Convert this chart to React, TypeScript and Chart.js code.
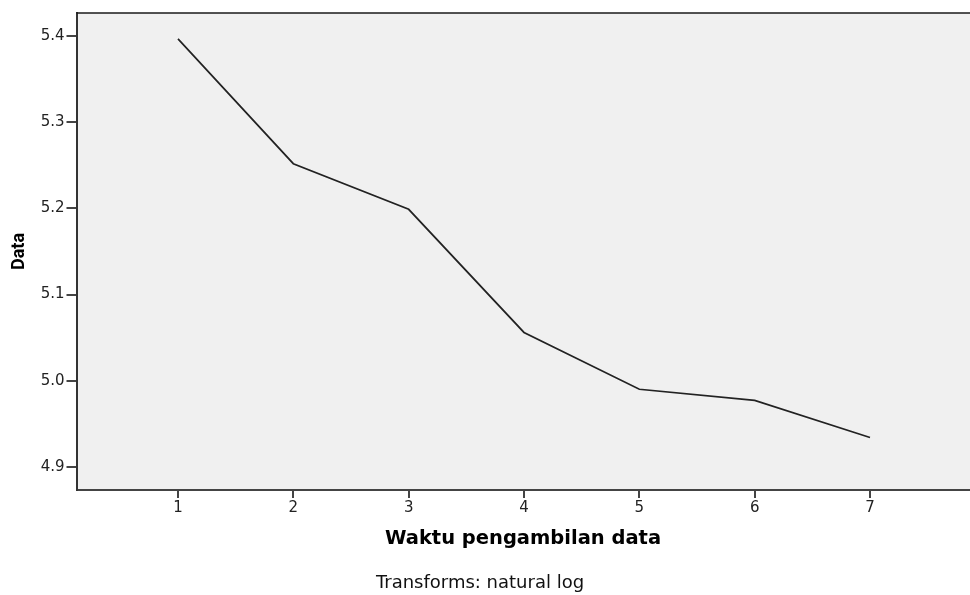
import React, { useEffect, useRef } from "react";
import { Chart, registerables } from "chart.js";

Chart.register(...registerables);

const xValues = [1, 2, 3, 4, 5, 6, 7];
const yValues = [5.397, 5.252, 5.199, 5.056, 4.99, 4.977, 4.934];
const xTicks = [1, 2, 3, 4, 5, 6, 7];
const yTicks = [4.9, 5.0, 5.1, 5.2, 5.3, 5.4];
const yTitle = "Data";
const xTitle = "Waktu pengambilan data";
const footnote = "Transforms: natural log";

const CANVAS_W = 976;
const CANVAS_H = 595;

const decorPlugin = {
  id: "decor",
  beforeDraw(chart: any) {
    const { ctx, chartArea } = chart;
    ctx.save();
    ctx.fillStyle = "#f0f0f0";
    ctx.fillRect(chartArea.left, chartArea.top, chartArea.right - chartArea.left, chartArea.bottom - chartArea.top);
    ctx.restore();
  },
  afterDraw(chart: any) {
    const { ctx, chartArea } = chart;
    ctx.save();
    ctx.strokeStyle = "#1a1a1a";
    ctx.lineWidth = 1.6;
    ctx.beginPath();
    ctx.moveTo(chartArea.left, chartArea.top);
    ctx.lineTo(CANVAS_W, chartArea.top);
    ctx.stroke();

    ctx.fillStyle = "#000";
    ctx.save();
    ctx.translate(19.5, 251.5);
    ctx.rotate(-Math.PI / 2);
    ctx.font = 'bold 18px Roboto, "Liberation Sans", Arial, sans-serif';
    ctx.textAlign = "center";
    ctx.textBaseline = "middle";
    ctx.fillText(yTitle, 0, 0);
    ctx.restore();

    ctx.font = 'bold 19.5px "DejaVu Sans", sans-serif';
    ctx.textAlign = "center";
    ctx.textBaseline = "middle";
    ctx.fillText(xTitle, 523, 539);

    ctx.font = '18px "DejaVu Sans", sans-serif';
    ctx.fillStyle = "#111";
    ctx.fillText(footnote, 480, 583);
    ctx.restore();
  },
};

export default function App() {
  const ref = useRef<HTMLCanvasElement | null>(null);

  useEffect(() => {
    document.body.style.margin = "0";
    document.body.style.overflow = "hidden";
    if (!ref.current) return;
    const chart = new Chart(ref.current, {
      type: "line",
      data: {
        datasets: [
          {
            data: xValues.map((x, i) => ({ x, y: yValues[i] })),
            borderColor: "#222",
            borderWidth: 1.7,
            pointRadius: 0,
            tension: 0,
            fill: false,
          },
        ],
      },
      options: {
        animation: false,
        responsive: false,
        layout: { padding: { left: 0, top: 13, right: 4.5, bottom: 65 } },
        plugins: {
          legend: { display: false },
          tooltip: { enabled: false },
        },
        scales: {
          x: {
            type: "linear",
            min: 0.12,
            max: 7.88,
            afterFit: (s: any) => {
              s.height = 40;
            },
            afterBuildTicks: (s: any) => {
              s.ticks = xTicks.map((v) => ({ value: v }));
            },
            ticks: {
              color: "#222",
              font: { family: "DejaVu Sans", size: 15 },
              padding: 1,
              maxRotation: 0,
              callback: (v: any) => String(v),
            },
            grid: {
              display: true,
              drawOnChartArea: false,
              drawTicks: true,
              tickLength: 8,
              color: "#444",
              lineWidth: 2,
            },
            border: { display: true, color: "#444", width: 2 },
          },
          y: {
            type: "linear",
            min: 4.873,
            max: 5.427,
            afterFit: (s: any) => {
              s.width = 76.5;
            },
            afterBuildTicks: (s: any) => {
              s.ticks = yTicks.map((v) => ({ value: v }));
            },
            ticks: {
              color: "#222",
              font: { family: "DejaVu Sans", size: 15 },
              padding: 2,
              callback: (v: any) => Number(v).toFixed(1),
            },
            grid: {
              display: true,
              drawOnChartArea: false,
              drawTicks: true,
              tickLength: 10,
              color: "#444",
              lineWidth: 2,
            },
            border: { display: true, color: "#333", width: 2 },
          },
        },
      },
      plugins: [decorPlugin],
    });
    let alive = true;
    const fonts = (document as any).fonts;
    if (fonts && fonts.load) {
      Promise.all([
        fonts.load("bold 18px Roboto"),
        fonts.load('bold 19.5px "DejaVu Sans"'),
        fonts.load('15px "DejaVu Sans"'),
      ])
        .then(() => {
          if (alive) chart.update();
        })
        .catch(() => {});
    }
    return () => {
      alive = false;
      chart.destroy();
    };
  }, []);

  return (
    <div style={{ width: 970, height: CANVAS_H, overflow: "hidden", background: "#fff" }}>
      <canvas ref={ref} width={CANVAS_W} height={CANVAS_H} style={{ display: "block" }} />
    </div>
  );
}
